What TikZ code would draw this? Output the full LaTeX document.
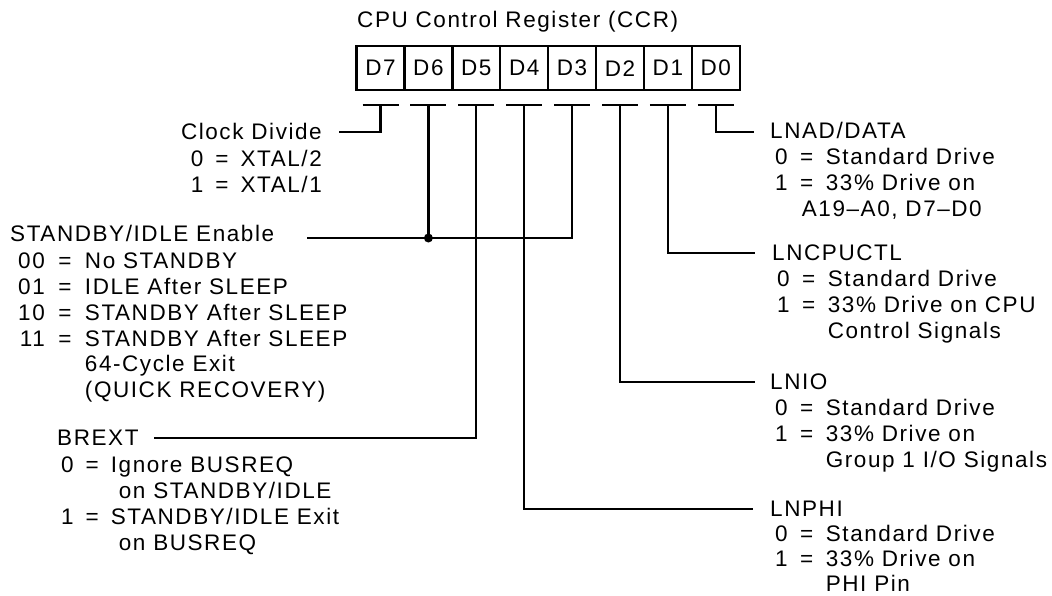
\documentclass[tikz,border=0pt]{standalone}
\usepackage{fontspec}
\setmainfont{Liberation Sans}[LetterSpace=7]
\newcommand\txt{\fontsize{22.5}{26}\selectfont}
\newcommand\txtb{\fontsize{22.5}{25.4}\selectfont}
\tikzset{
  wire/.style={line width=2.3pt},
  cell/.style={draw, line width=2.3pt, minimum width=47.9pt, minimum height=44pt, inner sep=0pt, font=\txt},
  lbl/.style={inner sep=0pt, text height=16pt, text depth=0pt, font=\txt},
  vals/.style={inner sep=0pt, font=\txt},
}
\begin{document}
\begin{tikzpicture}[x=1pt,y=-1pt]
\useasboundingbox (0,0) rectangle (1052,596);
% title
\node[lbl, anchor=base west] (title) at (357,28) {CPU Control Register (CCR)};
% register cells
\foreach \b/\k in {7/0,6/1,5/2,4/3,3/4,2/5,1/6,0/7}{
  \node[cell, anchor=north west] (c\b) at ({355.4+47.9*\k},45) {D\b};
  \path (c\b.south) ++(0,14) coordinate (s\b);
  \draw[wire] ([xshift=-18pt]s\b) -- ([xshift=18pt]s\b);
}
% left labels
\node[lbl, anchor=base east] (clk) at (322,140) {Clock Divide};
\node[vals, anchor=base east] (clkv) at (322,167) {\begin{tabular}[t]{@{}r@{\hspace{12pt}}c@{\hspace{12pt}}l@{}}
0 & = & XTAL/2\\ 1 & = & XTAL/1\end{tabular}};
\node[lbl, anchor=base west] (stb) at (10,241) {STANDBY/IDLE Enable};
\node[vals, anchor=base west] (stbv) at (18,268) {\begin{tabular}[t]{@{}r@{\hspace{13.5pt}}c@{\hspace{13.5pt}}l@{}}
00 & = & No STANDBY\\ 01 & = & IDLE After SLEEP\\ 10 & = & STANDBY After SLEEP\\
11 & = & STANDBY After SLEEP\\ & & 64-Cycle Exit\\ & & (QUICK RECOVERY)\end{tabular}};
\node[lbl, anchor=base west] (brext) at (57,445) {BREXT};
\node[vals, anchor=base west] (brextv) at (61,472) {\begin{tabular}[t]{@{}r@{\hspace{12pt}}c@{\hspace{12pt}}l@{}}
0 & = & Ignore BUSREQ\\ & & \hspace{8pt}on STANDBY/IDLE\\ 1 & = & STANDBY/IDLE Exit\\ & & \hspace{8pt}on BUSREQ\end{tabular}};
% right labels
\node[lbl, anchor=base west] (lnad) at (770,139) {LNAD/DATA};
\node[vals, anchor=base west] (lnadv) at (775,165) {\begin{tabular}[t]{@{}r@{\hspace{12.5pt}}c@{\hspace{12.5pt}}l@{}}
0 & = & Standard Drive\\ 1 & = & 33\% Drive on\\ & & \hspace{-24pt}A19–A0, D7–D0\end{tabular}};
\node[lbl, anchor=base west] (lncpu) at (772,260) {LNCPUCTL};
\node[vals, anchor=base west] (lncpuv) at (777,286) {\begin{tabular}[t]{@{}r@{\hspace{12.5pt}}c@{\hspace{12.5pt}}l@{}}
0 & = & Standard Drive\\ 1 & = & 33\% Drive on CPU\\ & & Control Signals\end{tabular}};
\node[lbl, anchor=base west] (lnio) at (770,389) {LNIO};
\node[vals, anchor=base west] (lniov) at (775,415) {\begin{tabular}[t]{@{}r@{\hspace{12.5pt}}c@{\hspace{12.5pt}}l@{}}
0 & = & Standard Drive\\ 1 & = & 33\% Drive on\\ & & Group 1 I/O Signals\end{tabular}};
\node[lbl, anchor=base west] (lnphi) at (770,516) {LNPHI};
\node[vals, font=\txtb, anchor=base west] (lnphiv) at (775,541) {\begin{tabular}[t]{@{}r@{\hspace{12.5pt}}c@{\hspace{12.5pt}}l@{}}
0 & = & Standard Drive\\ 1 & = & 33\% Drive on\\ & & PHI Pin\end{tabular}};
% connector ends
\coordinate (clkend) at (339,132);
\coordinate (stbend) at (307,238);
\coordinate (brextend) at (154,438);
\coordinate (phiend) at (753,509);
\coordinate (ioend) at (755,382);
\coordinate (cpuend) at (755,253);
\coordinate (adend) at (754,132);
% connectors
\draw[wire] (s7) |- (clkend);
\draw[wire] (s3) |- (stbend);
\draw[wire] (s6) -- (s6 |- stbend);
\fill (s6 |- stbend) circle (4.5pt);
\draw[wire] (s5) |- (brextend);
\draw[wire] (s4) |- (phiend);
\draw[wire] (s2) |- (ioend);
\draw[wire] (s1) |- (cpuend);
\draw[wire] (s0) |- (adend);
\end{tikzpicture}
\end{document}
